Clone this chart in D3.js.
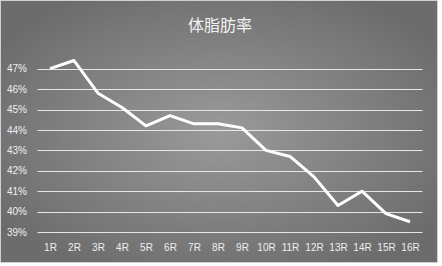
<!DOCTYPE html>
<html><head><meta charset="utf-8">
<script src="https://cdn.jsdelivr.net/npm/d3@7"></script>
<style>html,body{margin:0;padding:0;background:#fff;}svg{display:block;}</style>
</head><body>
<svg id="chart" width="442" height="266"></svg>
<script>
const categories = ["1R","2R","3R","4R","5R","6R","7R","8R","9R","10R","11R","12R","13R","14R","15R","16R"];
const bodyFat = [47.0,47.4,45.8,45.1,44.2,44.7,44.3,44.3,44.1,43.0,42.7,41.7,40.3,41.0,39.9,39.5];
const yTicks = [39,40,41,42,43,44,45,46,47];
const title = "体脂肪率";

const svg = d3.select("#chart");
const W = 437, H = 262;
const defs = svg.append("defs");
const grad = defs.append("radialGradient").attr("id","bg").attr("cx","50%").attr("cy","50%").attr("r","60%");
grad.append("stop").attr("offset","0%").attr("stop-color","#9a9a9a");
grad.append("stop").attr("offset","100%").attr("stop-color","#6c6c6c");
svg.append("rect").attr("x",0.5).attr("y",0.5).attr("width",W).attr("height",H)
  .attr("fill","url(#bg)").attr("stroke","#d0d0d0").attr("stroke-width",1);

const x = d3.scalePoint().domain(categories).range([38,422]).padding(0.5);
const y = d3.scaleLinear().domain([39,47]).range([232,68.7]);

const grid = svg.append("g");
grid.selectAll("line").data(yTicks).join("line")
  .attr("x1",37.5).attr("x2",422.5)
  .attr("y1",d=>Math.round(y(d))+0.5).attr("y2",d=>Math.round(y(d))+0.5)
  .attr("stroke","#e6e6e6").attr("stroke-width",1);

const yAxis = d3.axisLeft(y).tickValues(yTicks).tickFormat(d=>d+"%").tickSize(0).tickPadding(0);
const ya = svg.append("g").attr("transform","translate(27,0)").call(yAxis);
ya.select(".domain").remove();
ya.selectAll("text").attr("fill","#eeeeee").style("font-family","'Liberation Sans', Arial, sans-serif").style("font-size","10px");

const xAxis = d3.axisBottom(x).tickSize(0).tickPadding(0);
const xa = svg.append("g").attr("transform","translate(0,244)").call(xAxis);
xa.select(".domain").remove();
xa.selectAll("text").attr("fill","#eeeeee").style("font-family","'Liberation Sans', Arial, sans-serif").style("font-size","10px");

const line = d3.line().x((d,i)=>x(categories[i])).y(d=>y(d));
svg.append("path").datum(bodyFat).attr("d",line)
  .attr("fill","none").attr("stroke","#ffffff").attr("stroke-width",3).attr("stroke-linejoin","round");

svg.append("text").attr("x",220).attr("y",31).attr("text-anchor","middle")
  .attr("fill","#f2f2f2").style("font-family","'Noto Sans CJK JP', sans-serif").style("font-size","16px")
  .text(title);
</script>
</body></html>
